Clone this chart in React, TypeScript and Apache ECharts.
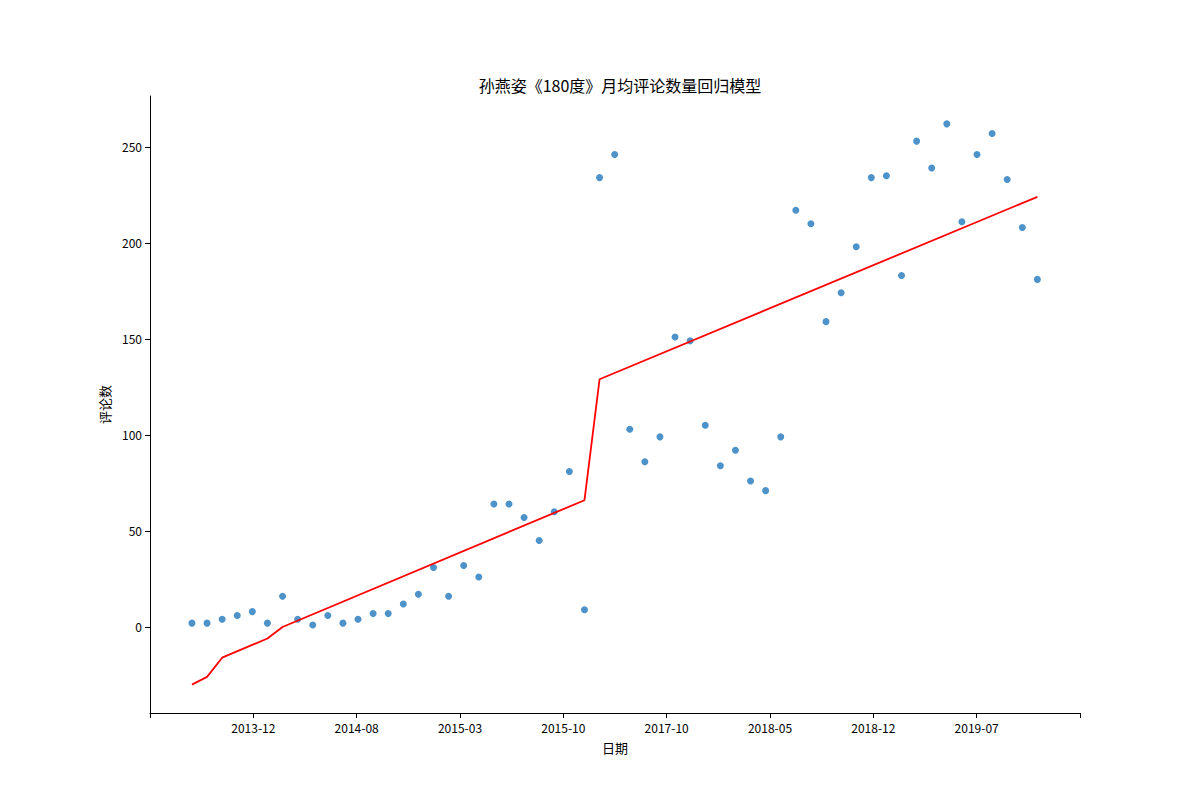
import { useEffect, useRef } from "react"
import * as echarts from "echarts"

const tickLabels = ["", "2013-12", "2014-08", "2015-03", "2015-10", "2017-10", "2018-05", "2018-12", "2019-07", ""]
const yTicks = [0, 50, 100, 150, 200, 250]

const comments = [
  2, 2, 4, 6, 8, 2, 16, 4, 1, 6, 2, 4, 7, 7, 12, 17, 31, 16, 32, 26,
  64, 64, 57, 45, 60, 81, 9, 234, 246, 103, 86, 99, 151, 149, 105, 84, 92, 76, 71, 99,
  217, 210, 159, 174, 198, 234, 235, 183, 253, 239, 262, 211, 246, 257, 233, 208, 181,
]

// regression line vertices: [point index, value]
const fitIdx = [0, 1, 2, 5, 6, 26, 27, 56]
const fitVal = [-30, -26, -16, -6, 0, 66, 129, 224]

// point index -> position on the tick axis (ticks at 0..9)
const xOf = (i: number) => 0.406 + i * 0.1461

export default function App() {
  const ref = useRef<HTMLDivElement>(null)

  useEffect(() => {
    if (!ref.current) return
    const chart = echarts.init(ref.current, null, { renderer: "svg" })
    const font = "'Noto Sans CJK SC', sans-serif"
    chart.setOption({
      animation: false,
      textStyle: { fontFamily: font },
      title: {
        text: "孙燕姿《180度》月均评论数量回归模型",
        left: 615,
        top: 72,
        textAlign: "center",
        textStyle: { fontSize: 16, fontWeight: "normal", color: "#000", fontFamily: font },
      },
      grid: { left: 150, right: 120, top: 96, bottom: 87 },
      xAxis: {
        type: "value",
        min: 0,
        max: 9,
        interval: 1,
        name: "日期",
        nameLocation: "middle",
        nameGap: 28,
        nameTextStyle: { color: "#000", fontSize: 13 },
        axisLine: { onZero: false, lineStyle: { color: "#000" } },
        axisTick: { show: true, inside: false, length: 5, lineStyle: { color: "#000" } },
        axisLabel: { color: "#000", fontSize: 12, formatter: (v: number) => tickLabels[Math.round(v)] ?? "" },
        splitLine: { show: false },
      },
      yAxis: {
        type: "value",
        min: -44.8,
        max: 276.5,
        name: "评论数",
        nameLocation: "middle",
        nameGap: 38,
        nameTextStyle: { color: "#000", fontSize: 13 },
        axisLine: { show: true, onZero: false, lineStyle: { color: "#000" } },
        axisTick: { show: true, length: 5, customValues: yTicks, lineStyle: { color: "#000" } },
        axisLabel: { color: "#000", fontSize: 12, customValues: yTicks },
        splitLine: { show: false },
      },
      series: [
        {
          type: "scatter",
          symbolSize: 7,
          itemStyle: { color: "#3a86c2", opacity: 0.9 },
          data: comments.map((v, i) => [xOf(i), v]),
          z: 2,
        },
        {
          type: "line",
          symbol: "none",
          lineStyle: { color: "#ff0000", width: 1.8 },
          data: fitIdx.map((i, k) => [xOf(i), fitVal[k]]),
          z: 3,
        },
      ],
    })
    return () => chart.dispose()
  }, [])

  return <div ref={ref} style={{ width: 1200, height: 800, margin: -8 }} />
}
